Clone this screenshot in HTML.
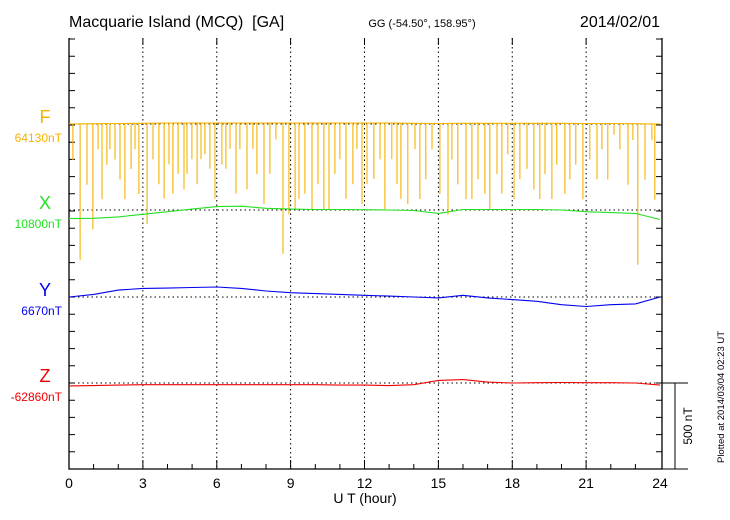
<!DOCTYPE html>
<html><head><meta charset="utf-8"><style>
body{margin:0;background:#fff;}
svg{display:block;font-family:"Liberation Sans",sans-serif;}
</style></head><body>
<svg id="chart" width="730" height="520" viewBox="0 0 730 520"></svg>
<script>
// ---- data (nT relative to baseline, hourly 0..24) ----
const hours = [0,1,2,3,4,5,6,7,8,9,10,11,12,13,14,15,16,17,18,19,20,21,22,23,24];
const fBase = [0,2,3,4,5,5,5,5,5,5,5,5,5,5,4,3,4,4,4,4,4,3,3,2,0];
const xVals = [-50,-48,-40,-25,-10,5,20,22,10,5,3,3,2,0,-3,-20,3,3,3,3,0,-10,-15,-20,-55];
const yVals = [0,15,40,50,52,55,58,50,35,25,20,15,10,5,0,-5,10,-5,-15,-25,-45,-55,-45,-40,0];
const zVals = [-17,-15,-12,-10,-10,-10,-10,-10,-10,-10,-10,-12,-12,-15,-10,15,20,5,0,2,3,2,2,0,-12];
const spikeHours = [0.16,0.45,0.73,0.97,1.18,1.34,1.54,1.66,1.87,2.07,2.27,2.52,2.68,2.84,3.17,3.41,3.65,3.86,4.06,4.22,4.43,4.67,4.79,4.99,5.2,5.36,5.52,5.72,5.93,6.21,6.37,6.54,6.78,6.94,7.23,7.47,7.63,7.92,8.16,8.4,8.69,8.93,9.18,9.34,9.58,9.87,10.11,10.35,10.56,10.8,11.0,11.25,11.53,11.69,11.9,12.1,12.38,12.63,12.83,13.11,13.32,13.48,13.76,14.05,14.25,14.49,14.74,15.06,15.39,15.55,15.79,16.12,16.36,16.61,16.89,17.09,17.38,17.58,17.82,18.07,18.31,18.6,18.88,19.12,19.33,19.61,19.81,20.14,20.34,20.58,20.87,21.15,21.44,21.64,21.88,22.13,22.37,22.7,22.9,23.1,23.39,23.67,23.79];
const spikeDepths = [210,790,355,615,150,440,240,150,210,325,440,265,150,410,585,210,355,440,240,410,295,385,295,210,355,210,180,265,440,240,265,150,410,150,385,150,295,470,295,95,760,530,500,440,410,500,355,500,500,295,210,440,355,150,470,355,325,210,500,210,355,440,470,150,440,325,150,410,530,210,355,440,440,325,410,500,295,410,180,440,325,265,385,440,295,440,240,410,325,240,440,210,325,150,325,65,150,355,95,820,325,95,440];
const xTickLabels = ["0","3","6","9","12","15","18","21","24"];

// ---- layout ----
const L=69,R=660,T=38,B=469;
const ppn=17.2/100; // px per nT
const base={F:124,X:210,Y:297,Z:383};
const col={F:"#f5b400",X:"#22e022",Y:"#0000f0",Z:"#f00000"};
const xs=h=>L+(R-L)*h/24;
const ys=(b,v)=>b-v*ppn;
const svg=document.getElementById('chart');
const NS="http://www.w3.org/2000/svg";
function mk(tag,attrs,parent){const e=document.createElementNS(NS,tag);for(const k in attrs)e.setAttribute(k,attrs[k]);(parent||svg).appendChild(e);return e;}
function txt(s,attrs){const e=mk('text',attrs);e.textContent=s;return e;}

// grid
for(let i=1;i<8;i++){const g=mk('line',{x1:xs(i*3),x2:xs(i*3),y1:T,y2:B,stroke:'#000','stroke-width':1,'stroke-dasharray':'1.5,3'});

}
for(const k in base){const g=mk('line',{x1:L,x2:R,y1:base[k],y2:base[k],stroke:'#000','stroke-width':1,'stroke-dasharray':'1.5,3'});

}

// axes frame
const ax=mk('path',{d:`M${L},${T}V${B}H${R+2}M${R+2},${T}V${B}`,stroke:'#000','stroke-width':1.3,fill:'none'});


let td='';
for(let y=base.Z+17.2*5;y>T;y-=17.2){td+=`M${L},${y.toFixed(1)}h6M${R+2},${y.toFixed(1)}h-6`;}
for(let h=1;h<24;h++){td+=`M${xs(h).toFixed(1)},${B}v-5`;}
for(let h=3;h<24;h+=3){td+=`M${xs(h).toFixed(1)},${B}v-9M${xs(h).toFixed(1)},${T}v7`;}
const tk=mk('path',{d:td,stroke:'#000','stroke-width':1,fill:'none'});



xTickLabels.forEach((s,i)=>{const t=txt(s,{x:xs(i*3),y:488,'font-size':14,'text-anchor':'middle'});

});
const xt=txt('U T (hour)',{x:365,y:503,'font-size':14,'text-anchor':'middle'});



function line(vals,b,c,name){let d='';vals.forEach((v,i)=>{d+=(i?'L':'M')+xs(hours[i]).toFixed(1)+','+ys(b,v).toFixed(1);});
const p=mk('path',{d,stroke:c,'stroke-width':1.1,fill:'none'});

}
function fAt(h){const i=Math.min(23,Math.floor(h));return fBase[i]+(fBase[i+1]-fBase[i])*(h-i);}
let sd='';
spikeHours.forEach((h,i)=>{const x=xs(h).toFixed(1);const y0=ys(base.F,fAt(h)).toFixed(1);sd+=`M${x},${y0}V${ys(base.F,fAt(h)-spikeDepths[i]).toFixed(1)}`;});
const sp=mk('path',{d:sd,stroke:col.F,'stroke-width':1.1,fill:'none'});


line(fBase,base.F,col.F,'f-series');
line(xVals,base.X,col.X,'x-series');
line(yVals,base.Y,col.Y,'y-series');
line(zVals,base.Z,col.Z,'z-series');

const labs=[['F','64130nT'],['X','10800nT'],['Y','6670nT'],['Z','-62860nT']];
labs.forEach(([k,v])=>{
const a=txt(k,{x:45,y:base[k]-1,'font-size':18,'text-anchor':'middle',fill:col[k]});


const b=txt(v,{x:62,y:base[k]+18,'font-size':12,'text-anchor':'end',fill:col[k]});

});

const sb=mk('path',{d:`M${R+2},${base.Z}H688M${R+2},${B}H688M675,${base.Z}V${B}`,stroke:'#000','stroke-width':1,fill:'none'});


const sbt=txt('500 nT',{x:0,y:0,'font-size':12,'text-anchor':'middle',transform:'translate(692,426) rotate(-90)'});


const pt=txt('Plotted at 2014/03/04 02:23 UT',{x:0,y:0,'font-size':9.5,'text-anchor':'middle',transform:'translate(724,397) rotate(-90)'});



const t1=txt('Macquarie Island (MCQ)\u00a0 [GA]',{x:69,y:27,'font-size':16});


const t2=txt('GG (-54.50°, 158.95°)',{x:422,y:27,'font-size':11,'text-anchor':'middle'});


const t3=txt('2014/02/01',{x:660,y:27,'font-size':16,'text-anchor':'end'});


</script>
</body></html>
